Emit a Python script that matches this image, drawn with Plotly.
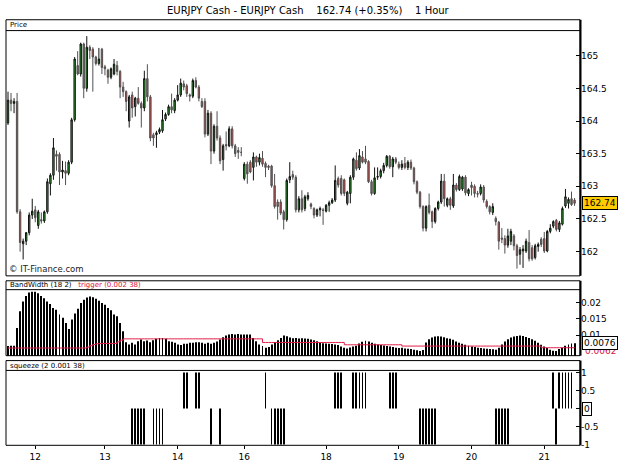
import plotly.graph_objects as go

# ---------------- data (hourly bars, EURJPY) ----------------
bar_open = [
    163.97, 164.32, 164.27, 164.30, 162.61, 162.12, 162.16, 162.29, 162.56, 162.64,
    162.40, 162.49, 162.47, 162.61, 163.04, 163.17, 163.49, 163.49, 163.22, 163.24,
    163.20, 163.37, 164.02, 164.85, 164.72, 165.18, 164.50, 165.13, 165.10, 164.98,
    164.88, 165.10, 164.83, 164.78, 164.67, 164.72, 164.85, 164.76, 164.52, 164.45,
    164.00, 164.40, 164.22, 164.35, 164.27, 164.20, 164.65, 164.37, 163.79, 163.79,
    163.83, 163.85, 164.03, 164.10, 164.22, 164.16, 164.32, 164.40, 164.57, 164.54,
    164.40, 164.38, 164.62, 164.52, 164.30, 164.30, 163.80, 164.12, 163.54, 163.92,
    163.74, 163.41, 163.64, 163.62, 163.88, 163.62, 163.55, 163.52, 163.12, 163.34,
    163.37, 163.29, 163.45, 163.37, 163.43, 163.35, 163.31, 163.31, 163.01, 162.76,
    162.76, 162.61, 162.49, 163.10, 163.18, 163.14, 162.64, 162.81, 162.66, 162.81,
    162.73, 162.66, 162.56, 162.64, 162.64, 162.62, 162.71, 162.75, 162.79, 163.12,
    163.12, 163.10, 162.74, 162.89, 163.14, 163.40, 163.28, 163.45, 163.42, 163.38,
    163.07, 162.89, 163.14, 163.15, 163.24, 163.32, 163.46, 163.30, 163.42, 163.34,
    163.29, 163.35, 163.29, 163.37, 163.28, 163.07, 162.91, 162.69, 162.36, 162.71,
    162.61, 162.46, 162.66, 162.76, 163.08, 162.71, 162.81, 162.70, 163.02, 162.95,
    162.96, 163.14, 162.89, 163.02, 163.00, 162.89, 162.89, 162.99, 162.77, 162.69,
    162.60, 162.51, 162.45, 162.21, 162.20, 162.10, 162.16, 162.24, 162.09, 161.96,
    162.01, 162.01, 162.14, 162.06, 161.91, 162.08, 162.19, 162.20, 162.01, 162.31,
    162.39, 162.48, 162.34, 162.42, 162.70, 162.74, 162.81, 162.79,
]
bar_high = [
    164.45, 164.43, 164.35, 164.43, 162.65, 162.20, 162.30, 162.60, 162.81, 162.70,
    162.64, 162.60, 162.63, 163.12, 163.20, 163.74, 163.55, 163.52, 163.39, 163.38,
    163.40, 164.05, 164.98, 165.07, 165.20, 165.20, 165.30, 165.16, 165.13, 165.00,
    165.12, 165.12, 164.86, 164.80, 164.82, 164.95, 164.92, 164.78, 164.60, 164.47,
    164.40, 164.45, 164.37, 164.52, 164.30, 164.77, 164.87, 164.40, 163.82, 163.85,
    163.90, 164.17, 164.13, 164.25, 164.42, 164.35, 164.55, 164.65, 164.62, 164.57,
    164.42, 164.65, 164.67, 164.55, 164.35, 164.35, 164.17, 164.15, 163.95, 164.15,
    163.78, 163.65, 163.84, 163.92, 163.92, 163.65, 163.60, 163.60, 163.37, 163.38,
    163.40, 163.52, 163.47, 163.50, 163.54, 163.38, 163.33, 163.33, 163.19, 162.80,
    162.80, 162.64, 163.12, 163.37, 163.24, 163.17, 162.85, 162.94, 162.87, 162.91,
    162.75, 162.68, 162.66, 162.69, 162.67, 162.73, 162.78, 162.82, 163.32, 163.15,
    163.17, 163.12, 162.93, 163.17, 163.44, 163.52, 163.57, 163.54, 163.62, 163.40,
    163.10, 163.29, 163.29, 163.27, 163.36, 163.48, 163.48, 163.45, 163.45, 163.38,
    163.40, 163.45, 163.40, 163.41, 163.30, 163.09, 162.93, 162.71, 162.71, 162.89,
    162.63, 162.68, 162.78, 163.19, 163.19, 162.83, 162.84, 163.19, 163.05, 163.18,
    163.16, 163.17, 162.97, 163.07, 163.03, 162.93, 163.03, 163.02, 162.80, 162.71,
    162.74, 162.54, 162.47, 162.36, 162.25, 162.35, 162.35, 162.27, 162.12, 162.07,
    162.10, 162.20, 162.33, 162.10, 162.12, 162.14, 162.22, 162.30, 162.33, 162.42,
    162.48, 162.50, 162.47, 162.69, 162.96, 162.83, 162.92, 162.82,
]
bar_low = [
    163.94, 164.15, 164.12, 162.58, 162.00, 161.88, 162.10, 162.25, 162.50, 162.45,
    162.35, 162.43, 162.44, 162.58, 162.86, 163.10, 163.24, 163.02, 163.12, 163.02,
    163.17, 163.34, 163.99, 164.70, 164.68, 164.35, 164.45, 164.95, 164.45, 164.85,
    164.85, 164.72, 164.70, 164.57, 164.64, 164.70, 164.70, 164.35, 164.37, 164.15,
    163.90, 164.05, 164.07, 164.25, 163.90, 164.15, 164.30, 163.69, 163.62, 163.59,
    163.80, 163.82, 164.00, 164.08, 164.12, 164.12, 164.30, 164.37, 164.47, 164.37,
    164.30, 164.35, 164.50, 164.30, 164.20, 163.75, 163.77, 163.34, 163.50, 163.70,
    163.34, 163.24, 163.55, 163.60, 163.58, 163.45, 163.42, 163.46, 163.09, 163.04,
    163.20, 163.09, 163.30, 163.32, 163.30, 163.14, 163.25, 162.98, 162.66, 162.49,
    162.56, 162.34, 162.46, 163.05, 163.10, 162.60, 162.60, 162.60, 162.62, 162.78,
    162.65, 162.51, 162.53, 162.54, 162.41, 162.60, 162.61, 162.73, 162.76, 162.98,
    162.86, 162.85, 162.71, 162.74, 163.10, 163.24, 163.25, 163.35, 163.34, 163.05,
    162.86, 162.87, 163.10, 163.12, 163.20, 163.29, 163.27, 163.14, 163.34, 163.26,
    163.25, 163.26, 163.25, 163.25, 163.03, 162.88, 162.66, 162.31, 162.31, 162.57,
    162.36, 162.43, 162.63, 162.73, 162.69, 162.68, 162.64, 162.67, 162.92, 162.93,
    162.93, 162.86, 162.85, 162.86, 162.83, 162.83, 162.86, 162.75, 162.66, 162.57,
    162.56, 162.40, 162.03, 162.13, 161.97, 162.06, 162.10, 162.02, 161.74, 161.80,
    161.75, 161.98, 161.85, 161.86, 161.88, 162.00, 162.07, 161.98, 161.99, 162.28,
    162.36, 162.31, 162.30, 162.40, 162.67, 162.66, 162.70, 162.70,
]
bar_close = [
    164.32, 164.27, 164.30, 162.61, 162.14, 162.16, 162.29, 162.56, 162.62, 162.52,
    162.61, 162.47, 162.61, 163.07, 163.17, 163.59, 163.46, 163.22, 163.25, 163.20,
    163.37, 164.02, 164.95, 164.72, 165.18, 164.50, 165.13, 165.08, 164.98, 164.88,
    164.95, 164.82, 164.80, 164.67, 164.80, 164.87, 164.76, 164.52, 164.45, 164.30,
    164.37, 164.20, 164.35, 164.27, 164.20, 164.65, 164.37, 163.74, 163.74, 163.82,
    163.87, 164.02, 164.10, 164.22, 164.17, 164.32, 164.40, 164.58, 164.52, 164.42,
    164.38, 164.62, 164.52, 164.35, 164.22, 163.80, 164.12, 163.54, 163.92, 163.74,
    163.39, 163.62, 163.62, 163.88, 163.62, 163.50, 163.52, 163.52, 163.34, 163.19,
    163.22, 163.45, 163.37, 163.44, 163.34, 163.29, 163.29, 163.01, 162.69, 162.69,
    162.59, 162.49, 163.09, 163.15, 163.14, 162.64, 162.81, 162.64, 162.84, 162.86,
    162.69, 162.56, 162.64, 162.66, 162.63, 162.71, 162.75, 162.79, 163.09, 163.02,
    162.89, 162.89, 162.91, 163.14, 163.42, 163.27, 163.47, 163.37, 163.37, 163.07,
    162.89, 163.13, 163.15, 163.24, 163.32, 163.46, 163.30, 163.42, 163.37, 163.29,
    163.34, 163.29, 163.37, 163.28, 163.07, 162.91, 162.69, 162.36, 162.69, 162.60,
    162.46, 162.66, 162.76, 163.08, 162.81, 162.81, 162.71, 163.02, 162.95, 163.15,
    163.14, 162.90, 162.95, 162.98, 162.89, 162.88, 162.99, 162.79, 162.69, 162.61,
    162.69, 162.46, 162.16, 162.19, 162.10, 162.24, 162.31, 162.09, 161.94, 162.03,
    162.04, 162.16, 161.89, 161.89, 162.09, 162.11, 162.11, 162.01, 162.31, 162.36,
    162.46, 162.34, 162.44, 162.66, 162.84, 162.80, 162.72, 162.74,
]

bandwidth = [
    0.0067, 0.0068, 0.0068, 0.0122, 0.0173, 0.0203, 0.0220, 0.0230, 0.0233, 0.0233,
    0.0228, 0.0220, 0.0213, 0.0203, 0.0195, 0.0183, 0.0178, 0.0163, 0.0153, 0.0137,
    0.0119, 0.0148, 0.0166, 0.0181, 0.0198, 0.0208, 0.0215, 0.0218, 0.0216, 0.0211,
    0.0205, 0.0198, 0.0193, 0.0183, 0.0176, 0.0163, 0.0158, 0.0137, 0.0112, 0.0079,
    0.0072, 0.0077, 0.0072, 0.0082, 0.0087, 0.0082, 0.0084, 0.0079, 0.0085, 0.0089,
    0.0092, 0.0092, 0.0089, 0.0082, 0.0080, 0.0077, 0.0072, 0.0070, 0.0074, 0.0074,
    0.0077, 0.0077, 0.0079, 0.0079, 0.0077, 0.0074, 0.0077, 0.0074, 0.0077, 0.0081,
    0.0087, 0.0094, 0.0099, 0.0102, 0.0104, 0.0102, 0.0104, 0.0102, 0.0102, 0.0102,
    0.0102, 0.0092, 0.0082, 0.0072, 0.0067, 0.0062, 0.0064, 0.0072, 0.0079, 0.0085,
    0.0092, 0.0099, 0.0097, 0.0093, 0.0091, 0.0092, 0.0090, 0.0091, 0.0090, 0.0089,
    0.0087, 0.0085, 0.0082, 0.0078, 0.0076, 0.0075, 0.0074, 0.0073, 0.0072, 0.0070,
    0.0066, 0.0062, 0.0060, 0.0063, 0.0066, 0.0068, 0.0075, 0.0080, 0.0083, 0.0081,
    0.0077, 0.0074, 0.0072, 0.0070, 0.0069, 0.0067, 0.0066, 0.0064, 0.0062, 0.0061,
    0.0062, 0.0060, 0.0059, 0.0058, 0.0056, 0.0054, 0.0052, 0.0055, 0.0078, 0.0088,
    0.0093, 0.0096, 0.0097, 0.0096, 0.0094, 0.0091, 0.0089, 0.0086, 0.0081, 0.0077,
    0.0074, 0.0071, 0.0068, 0.0066, 0.0064, 0.0062, 0.0061, 0.0060, 0.0059, 0.0058,
    0.0057, 0.0056, 0.0062, 0.0072, 0.0081, 0.0088, 0.0093, 0.0096, 0.0098, 0.0099,
    0.0098, 0.0095, 0.0092, 0.0088, 0.0083, 0.0077, 0.0071, 0.0066, 0.0061, 0.0056,
    0.0053, 0.0052, 0.0058, 0.0062, 0.0068, 0.0072, 0.0075, 0.0076,
]

trigger = [
    0.0061, 0.0061, 0.0061, 0.0061, 0.0061, 0.0061, 0.0061, 0.0061, 0.0061, 0.0061,
    0.0061, 0.0061, 0.0061, 0.0061, 0.0061, 0.0061, 0.0061, 0.0061, 0.0061, 0.0061,
    0.0061, 0.0061, 0.0061, 0.0061, 0.0061, 0.0061, 0.0064, 0.0068, 0.0072, 0.0074,
    0.0075, 0.0075, 0.0075, 0.0075, 0.0075, 0.0075, 0.0080, 0.0085, 0.0089, 0.0089,
    0.0089, 0.0089, 0.0089, 0.0089, 0.0089, 0.0089, 0.0089, 0.0089, 0.0089, 0.0089,
    0.0089, 0.0089, 0.0089, 0.0089, 0.0089, 0.0089, 0.0089, 0.0089, 0.0089, 0.0089,
    0.0089, 0.0089, 0.0089, 0.0089, 0.0089, 0.0089, 0.0089, 0.0089, 0.0089, 0.0089,
    0.0089, 0.0089, 0.0089, 0.0089, 0.0089, 0.0089, 0.0089, 0.0089, 0.0089, 0.0089,
    0.0089, 0.0089, 0.0089, 0.0089, 0.0078, 0.0078, 0.0078, 0.0078, 0.0078, 0.0078,
    0.0078, 0.0078, 0.0078, 0.0078, 0.0078, 0.0078, 0.0078, 0.0078, 0.0078, 0.0078,
    0.0078, 0.0078, 0.0078, 0.0078, 0.0078, 0.0078, 0.0078, 0.0078, 0.0078, 0.0078,
    0.0078, 0.0071, 0.0071, 0.0071, 0.0071, 0.0071, 0.0071, 0.0071, 0.0071, 0.0071,
    0.0071, 0.0071, 0.0071, 0.0071, 0.0071, 0.0071, 0.0071, 0.0071, 0.0071, 0.0071,
    0.0067, 0.0067, 0.0067, 0.0067, 0.0067, 0.0067, 0.0067, 0.0067, 0.0067, 0.0067,
    0.0067, 0.0067, 0.0067, 0.0067, 0.0067, 0.0067, 0.0067, 0.0067, 0.0067, 0.0067,
    0.0067, 0.0067, 0.0067, 0.0067, 0.0067, 0.0067, 0.0067, 0.0067, 0.0067, 0.0067,
    0.0067, 0.0067, 0.0067, 0.0067, 0.0067, 0.0067, 0.0067, 0.0067, 0.0067, 0.0067,
    0.0067, 0.0067, 0.0067, 0.0067, 0.0067, 0.0067, 0.0062, 0.0062, 0.0062, 0.0062,
    0.0062, 0.0062, 0.0062, 0.0062, 0.0062, 0.0062, 0.0062, 0.0062,
]

# bars where the squeeze indicator fires (+1 / -1)
squeeze_up_bars = [58, 59, 62, 63, 85, 108, 109, 110, 114, 115, 116, 117, 118,
                   126, 127, 128, 180, 182, 183, 184, 185, 186]
squeeze_down_bars = [41, 42, 43, 44, 45, 48, 49, 50, 51, 67, 70, 87, 88, 89, 90, 91,
                     136, 137, 138, 139, 140, 141, 161, 162, 163, 164, 165, 181]

day_labels = ["12", "13", "14", "16", "18", "19", "20", "21"]
day_start_bar = [9, 32, 56, 78, 105, 129, 153, 177]

price_ticks = [162, 162.5, 163, 163.5, 164, 164.5, 165]
bw_ticks = [0.01, 0.015, 0.02]
sq_ticks = [-1, -0.5, 0, 0.5, 1]
sq_tick_text = ["-1", "-0.5", "", "0.5", "1"]   # the 0 level is shown by the last-value box

last_price = 162.74
last_change = "+0.35%"
last_bw = 0.0076
last_trigger = 0.0062
last_squeeze = 0

assert len(bar_open) == len(bar_high) == len(bar_low) == len(bar_close) == len(bandwidth) == len(trigger)
N = len(bar_close)
bar_index = list(range(N))

# ---------------- geometry helpers (pixels -> paper) ----------------
W, H = 625, 469
def fx(px):
    return px / W
def fy(py):
    return 1 - py / H

LEFT, RIGHT = 6, 580
P_TOP, P_HEAD, P_BOT = 17, 28, 277
B_TOP, B_HEAD, B_BOT = 282, 291, 358
S_TOP, S_HEAD, S_BOT = 363, 373, 449

FONT = "DejaVu Sans"

fig = go.Figure()

fig.add_trace(go.Candlestick(
    x=bar_index, open=bar_open, high=bar_high, low=bar_low, close=bar_close,
    xaxis="x", yaxis="y",
    increasing=dict(fillcolor="#2fb52f", line=dict(color="#111111", width=1)),
    decreasing=dict(fillcolor="#c84444", line=dict(color="#505050", width=1)),
    whiskerwidth=0, hoverinfo="skip", showlegend=False,
))

fig.add_trace(go.Bar(
    x=bar_index, y=bandwidth, xaxis="x2", yaxis="y2", width=0.32,
    marker=dict(color="#000000", line=dict(width=0)), showlegend=False, hoverinfo="skip",
))
fig.add_trace(go.Scatter(
    x=bar_index, y=trigger, xaxis="x2", yaxis="y2", mode="lines",
    line=dict(color="#e0204a", width=1, shape="hv"), showlegend=False, hoverinfo="skip",
))

fig.add_trace(go.Bar(
    x=squeeze_up_bars, y=[1] * len(squeeze_up_bars), xaxis="x3", yaxis="y3", width=0.28,
    marker=dict(color="#000000", line=dict(width=0)), showlegend=False, hoverinfo="skip",
))
fig.add_trace(go.Bar(
    x=squeeze_down_bars, y=[-1] * len(squeeze_down_bars), xaxis="x3", yaxis="y3", width=0.28,
    marker=dict(color="#000000", line=dict(width=0)), showlegend=False, hoverinfo="skip",
))

xr = [-0.66, 188.8]
common_x = dict(domain=[fx(LEFT), fx(RIGHT)], range=xr, showgrid=False, zeroline=False,
                showline=False, fixedrange=True)
common_y = dict(side="right", showgrid=False, zeroline=False, showline=False,
                ticks="inside", ticklen=4, tickcolor="#000000", tickwidth=1,
                tickfont=dict(family=FONT, size=9, color="#000000"))

fig.update_layout(
    width=W, height=H, margin=dict(l=0, r=0, t=0, b=0),
    paper_bgcolor="white", plot_bgcolor="white",
    font=dict(family=FONT, size=9, color="#000000"),
    showlegend=False, hovermode=False, barmode="overlay", boxgap=0.35,
    xaxis=dict(**common_x, anchor="y", showticklabels=False, rangeslider=dict(visible=False)),
    xaxis2=dict(**common_x, anchor="y2", matches="x", showticklabels=False),
    xaxis3=dict(**common_x, anchor="y3", matches="x", tickmode="array",
                tickvals=day_start_bar, ticktext=day_labels, ticks="outside",
                ticklen=3, tickcolor="#000000",
                tickfont=dict(family=FONT, size=9, color="#000000")),
    yaxis=dict(**common_y, anchor="x", domain=[fy(P_BOT), fy(P_HEAD)],
               range=[161.629, 165.385], tickmode="array", tickvals=price_ticks,
               ticktext=[f"{v:g}" for v in price_ticks]),
    yaxis2=dict(**common_y, anchor="x2", domain=[fy(B_BOT), fy(B_HEAD)],
                range=[0.00378, 0.0239], tickmode="array", tickvals=bw_ticks,
                ticktext=[f"{v:g}" for v in bw_ticks]),
    yaxis3=dict(**common_y, anchor="x3", domain=[fy(S_BOT), fy(S_HEAD)],
                range=[-1.02, 1.056], tickmode="array", tickvals=sq_ticks,
                ticktext=sq_tick_text),
)

shapes = []
for top, head, bot in [(P_TOP, P_HEAD, P_BOT), (B_TOP, B_HEAD, B_BOT), (S_TOP, S_HEAD, S_BOT)]:
    shapes.append(dict(type="rect", xref="paper", yref="paper", x0=fx(LEFT), x1=fx(RIGHT),
                       y0=fy(bot), y1=fy(top), line=dict(color="#000000", width=1),
                       fillcolor="rgba(0,0,0,0)", layer="above"))
    shapes.append(dict(type="line", xref="paper", yref="paper", x0=fx(LEFT), x1=fx(RIGHT),
                       y0=fy(head), y1=fy(head), line=dict(color="#000000", width=1), layer="above"))
    shapes.append(dict(type="line", xref="paper", yref="paper", x0=fx(RIGHT + 0.5), x1=fx(RIGHT + 0.5),
                       y0=fy(bot), y1=fy(top), line=dict(color="#000000", width=2), layer="above"))
fig.update_layout(shapes=shapes)

nb = "\u00a0"
annotations = [
    dict(text=f"EURJPY Cash - EURJPY Cash{nb*4}{last_price:.2f} ({last_change}){nb*4}1 Hour",
         xref="paper", yref="paper", x=fx(308), y=fy(7.5), xanchor="center", yanchor="middle",
         showarrow=False, font=dict(family=FONT, size=10, color="#000000")),
    dict(text="Price", xref="paper", yref="paper", x=fx(8), y=fy((P_TOP + P_HEAD) / 2),
         xanchor="left", yanchor="middle", showarrow=False, font=dict(family=FONT, size=7)),
    dict(text="© IT-Finance.com", xref="paper", yref="paper", x=fx(7), y=fy(270),
         xanchor="left", yanchor="middle", showarrow=False,
         font=dict(family=FONT, size=8.5, color="#222222")),
    dict(text="BandWidth (18 2)" + nb * 3 + "<span style='color:#dc143c'>trigger (0.002 38)</span>",
         xref="paper", yref="paper", x=fx(8), y=fy((B_TOP + B_HEAD) / 2),
         xanchor="left", yanchor="middle", showarrow=False, font=dict(family=FONT, size=7)),
    dict(text="squeeze (2 0.001 38)", xref="paper", yref="paper", x=fx(8), y=fy((S_TOP + S_HEAD) / 2),
         xanchor="left", yanchor="middle", showarrow=False, font=dict(family=FONT, size=7)),
    dict(text=f"{last_price:.2f}", xref="paper", yref="y", x=fx(582), y=last_price,
         xanchor="left", yanchor="middle", showarrow=False, bgcolor="#ffcc00",
         bordercolor="#000000", borderwidth=1, borderpad=1, font=dict(family=FONT, size=9)),
    dict(text=f"{last_trigger:.4f}", xref="paper", yref="y2", x=fx(583), y=last_trigger,
         yshift=-3, xanchor="left", yanchor="middle", showarrow=False,
         font=dict(family=FONT, size=9, color="#dc143c")),
    dict(text=f"{last_bw:.4f}", xref="paper", yref="y2", x=fx(582), y=last_bw,
         xanchor="left", yanchor="middle", showarrow=False, bgcolor="#ffffff",
         bordercolor="#000000", borderwidth=1, borderpad=1, font=dict(family=FONT, size=9)),
    dict(text=f"{last_squeeze}", xref="paper", yref="y3", x=fx(582), y=last_squeeze,
         xanchor="left", yanchor="middle", showarrow=False, bgcolor="#ffffff",
         bordercolor="#000000", borderwidth=1, borderpad=1, font=dict(family=FONT, size=9)),
]
fig.update_layout(annotations=annotations)

fig.write_html("out.html")
